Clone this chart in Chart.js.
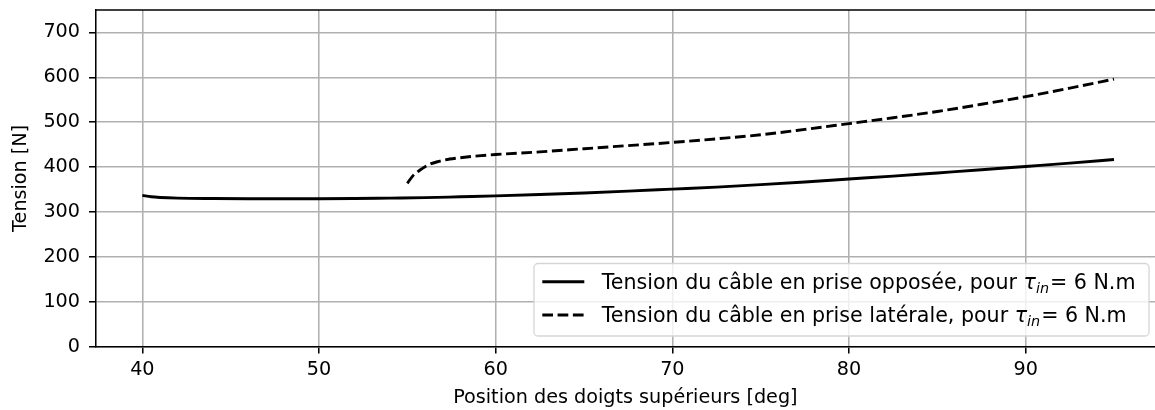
<!DOCTYPE html>
<html lang="fr">
<head>
    <meta charset="UTF-8">
    <title>Tension du câble</title>
    <script src="https://cdn.jsdelivr.net/npm/chart.js"></script>
    <style>
        html, body {
            margin: 0;
            padding: 0;
            background: #fff;
            overflow: hidden;
        }
        .chart-box {
            width: 1155px;
            height: 410px;
        }
    </style>
</head>
<body>
    <div class="chart-box">
        <canvas id="tension-chart"></canvas>
    </div>

    <script>
        // Position des doigts (deg) et tensions (N)
        const posOpposee = [40, 40.5, 41, 42, 44, 46, 48, 50, 52, 54, 56, 58, 60, 62.5, 65, 67.5, 70, 72.5, 75, 77.5, 80, 82.5, 85, 87.5, 90, 92.5, 95];
        const tensionOpposee = [337, 334, 332.5, 331, 330, 329.5, 329.5, 329.5, 330, 331, 332, 334, 336, 339, 342.5, 346.5, 351, 355.5, 361, 367, 373.5, 380, 387, 394, 401.5, 409, 417];

        const posLaterale = [55, 55.3, 55.7, 56, 56.3, 56.7, 57.4, 58, 59, 60, 62.5, 65, 67.5, 70, 72.5, 75, 77.5, 80, 82.5, 85, 87.5, 90, 92.5, 95];
        const tensionLaterale = [364, 380, 393, 401, 407, 412, 418, 421, 425, 428, 434, 441, 448, 455, 463, 472, 484, 497, 510, 524, 540, 557, 576, 596];

        const xTicks = [40, 50, 60, 70, 80, 90];
        const yTicks = [0, 100, 200, 300, 400, 500, 600, 700];

        const legendLabels = [
            'Tension du câble en prise opposée, pour ',
            'Tension du câble en prise latérale, pour '
        ];

        const FONT = "'DejaVu Sans', sans-serif";
        const TICK_SIZE = 19.2;
        const LEG_SIZE = 20.6;
        const LINE_W = 2.9;
        const DASH = [10.7, 4.6];

        function toPoints(xs, ys) {
            return xs.map((x, i) => ({ x: x, y: ys[i] }));
        }

        // Bordure du haut + légende façon matplotlib (avec tau_in)
        const mplExtras = {
            id: 'mplExtras',
            afterDraw(chart) {
                const ctx = chart.ctx;
                const area = chart.chartArea;

                ctx.save();
                ctx.strokeStyle = '#000';
                ctx.lineWidth = 1.54;
                ctx.beginPath();
                ctx.moveTo(area.left, area.top);
                ctx.lineTo(area.right, area.top);
                ctx.stroke();

                // legend frame
                const bx = 534, by = 263.5, bw = 615, bh = 72.5, r = 4;
                ctx.beginPath();
                ctx.moveTo(bx + r, by);
                ctx.arcTo(bx + bw, by, bx + bw, by + bh, r);
                ctx.arcTo(bx + bw, by + bh, bx, by + bh, r);
                ctx.arcTo(bx, by + bh, bx, by, r);
                ctx.arcTo(bx, by, bx + bw, by, r);
                ctx.closePath();
                ctx.fillStyle = 'rgba(255,255,255,0.8)';
                ctx.fill();
                ctx.strokeStyle = '#d6d6d6';
                ctx.lineWidth = 1.3;
                ctx.stroke();

                const rows = [281.7, 315];
                chart.data.datasets.forEach((ds, i) => {
                    const cy = rows[i];
                    ctx.strokeStyle = '#000';
                    ctx.lineWidth = LINE_W;
                    ctx.lineCap = 'butt';
                    ctx.setLineDash(ds.borderDash || []);
                    ctx.beginPath();
                    ctx.moveTo(542.3, cy);
                    ctx.lineTo(584.3, cy);
                    ctx.stroke();
                    ctx.setLineDash([]);

                    let x = 601.7;
                    const base = cy + 7;
                    ctx.fillStyle = '#000';
                    ctx.textBaseline = 'alphabetic';
                    ctx.font = LEG_SIZE + 'px ' + FONT;
                    ctx.fillText(legendLabels[i], x, base);
                    x += ctx.measureText(legendLabels[i]).width;
                    ctx.font = 'italic ' + LEG_SIZE + 'px ' + FONT;
                    ctx.fillText('τ', x, base);
                    x += ctx.measureText('τ').width;
                    ctx.font = 'italic 14.4px ' + FONT;
                    ctx.fillText('in', x, base + 4);
                    x += ctx.measureText('in').width + 1;
                    ctx.font = LEG_SIZE + 'px ' + FONT;
                    ctx.fillText('= 6 N.m', x, base);
                });
                ctx.restore();
            }
        };

        const ctx = document.getElementById('tension-chart').getContext('2d');
        const chart = new Chart(ctx, {
            type: 'line',
            data: {
                datasets: [
                    {
                        label: legendLabels[0] + 'τin= 6 N.m',
                        data: toPoints(posOpposee, tensionOpposee),
                        borderColor: '#000',
                        borderWidth: LINE_W,
                        pointRadius: 0,
                        cubicInterpolationMode: 'monotone',
                        fill: false
                    },
                    {
                        label: legendLabels[1] + 'τin= 6 N.m',
                        data: toPoints(posLaterale, tensionLaterale),
                        borderColor: '#000',
                        borderWidth: LINE_W,
                        borderDash: DASH,
                        borderCapStyle: 'butt',
                        pointRadius: 0,
                        cubicInterpolationMode: 'monotone',
                        fill: false
                    }
                ]
            },
            options: {
                responsive: true,
                maintainAspectRatio: false,
                animation: false,
                layout: { padding: { top: 10, right: 0, left: 0, bottom: 0 } },
                plugins: {
                    legend: { display: false },
                    tooltip: { enabled: false }
                },
                scales: {
                    x: {
                        type: 'linear',
                        min: 37.36,
                        max: 97.32,
                        afterBuildTicks: s => { s.ticks = xTicks.map(v => ({ value: v })); },
                        afterFit: s => { s.height = 63.3; s.paddingLeft = 0; s.paddingRight = 0; },
                        grid: { color: '#b0b0b0', lineWidth: 1.54, tickColor: '#000', tickLength: 6.7, tickWidth: 1.54 },
                        border: { color: '#000', width: 1.54 },
                        ticks: { color: '#000', font: { family: FONT, size: TICK_SIZE }, padding: 5.5, maxRotation: 0 },
                        title: { display: true, text: 'Position des doigts supérieurs [deg]', color: '#000', font: { family: FONT, size: TICK_SIZE }, padding: { top: 0, bottom: 0.6 } }
                    },
                    y: {
                        min: 0,
                        max: 750,
                        afterBuildTicks: s => { s.ticks = yTicks.map(v => ({ value: v })); },
                        afterFit: s => { s.width = 95.7; s.paddingTop = 0; s.paddingBottom = 0; },
                        grid: { color: '#b0b0b0', lineWidth: 1.54, tickColor: '#000', tickLength: 6.7, tickWidth: 1.54 },
                        border: { color: '#000', width: 1.54 },
                        ticks: { color: '#000', font: { family: FONT, size: TICK_SIZE }, padding: 9 },
                        title: { display: true, text: 'Tension [N]', color: '#000', font: { family: FONT, size: TICK_SIZE }, padding: { top: 9.9, bottom: 0 } }
                    }
                }
            },
            plugins: [mplExtras]
        });
    </script>
</body>
</html>
